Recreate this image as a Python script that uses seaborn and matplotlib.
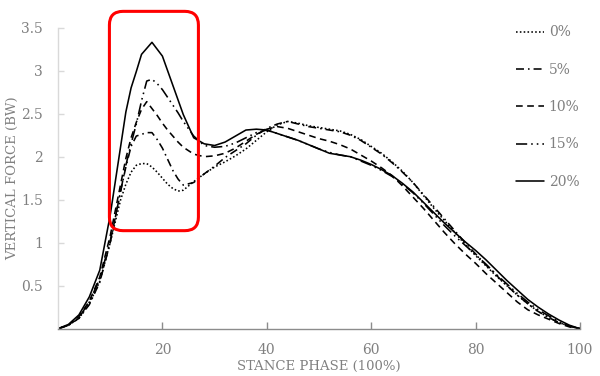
import matplotlib
matplotlib.use("Agg")
import matplotlib.pyplot as plt
from matplotlib.patches import FancyBboxPatch
import seaborn as sns
import pandas as pd

# ---- data -------------------------------------------------------------
stance = [0, 2, 4, 6, 8,
          10, 11, 12, 13, 14, 15, 16, 17, 18, 19, 20, 21, 22, 23, 24,
          26, 28, 30, 32, 34, 36, 38, 40, 42, 44, 46, 48, 50, 52, 54, 56, 58,
          60, 62, 64, 66, 68, 70, 72, 74, 76, 78, 80, 82, 84, 86, 88, 90, 92,
          94, 96, 98, 100]

force_0 = [0, 0.04, 0.12, 0.29, 0.55,
           1.00, 1.25, 1.50, 1.68, 1.82, 1.90, 1.92, 1.92, 1.88, 1.82, 1.75, 1.68, 1.63, 1.60, 1.61,
           1.71, 1.80, 1.88, 1.94, 2.01, 2.09, 2.19, 2.29, 2.37, 2.41, 2.39, 2.36, 2.34, 2.32, 2.30, 2.26, 2.20,
           2.12, 2.04, 1.94, 1.83, 1.70, 1.55, 1.40, 1.26, 1.12, 0.98, 0.85, 0.73, 0.61, 0.50, 0.39, 0.29, 0.20,
           0.13, 0.07, 0.03, 0]

force_5 = [0, 0.04, 0.12, 0.28, 0.54,
           1.00, 1.30, 1.60, 1.88, 2.12, 2.24, 2.26, 2.28, 2.28, 2.20, 2.10, 1.97, 1.84, 1.74, 1.67,
           1.70, 1.80, 1.89, 1.99, 2.07, 2.15, 2.25, 2.33, 2.38, 2.41, 2.38, 2.35, 2.33, 2.31, 2.29, 2.25, 2.19,
           2.11, 2.03, 1.93, 1.82, 1.70, 1.56, 1.42, 1.28, 1.14, 1.00, 0.87, 0.74, 0.62, 0.50, 0.39, 0.29, 0.20,
           0.13, 0.07, 0.03, 0]

force_10 = [0, 0.04, 0.14, 0.32, 0.60,
            1.08, 1.38, 1.68, 1.98, 2.22, 2.40, 2.55, 2.64, 2.56, 2.48, 2.39, 2.31, 2.24, 2.17, 2.11,
            2.03, 2.00, 2.01, 2.04, 2.10, 2.18, 2.26, 2.32, 2.35, 2.33, 2.29, 2.25, 2.21, 2.18, 2.14, 2.09, 2.02,
            1.95, 1.87, 1.78, 1.66, 1.53, 1.40, 1.26, 1.12, 0.99, 0.87, 0.76, 0.64, 0.53, 0.42, 0.31, 0.22, 0.16,
            0.11, 0.06, 0.02, 0]

force_15 = [0, 0.04, 0.13, 0.31, 0.58,
            1.02, 1.30, 1.60, 1.90, 2.15, 2.38, 2.65, 2.88, 2.90, 2.85, 2.78, 2.69, 2.60, 2.51, 2.41,
            2.24, 2.13, 2.11, 2.12, 2.16, 2.22, 2.28, 2.31, 2.27, 2.23, 2.19, 2.14, 2.09, 2.05, 2.02, 2.00, 1.95,
            1.90, 1.84, 1.77, 1.68, 1.58, 1.46, 1.33, 1.20, 1.08, 0.97, 0.86, 0.75, 0.63, 0.52, 0.41, 0.31, 0.22,
            0.15, 0.08, 0.03, 0]

force_20 = [0, 0.05, 0.16, 0.37, 0.68,
            1.32, 1.72, 2.12, 2.52, 2.80, 2.99, 3.19, 3.26, 3.33, 3.25, 3.17, 3.00, 2.83, 2.66, 2.49,
            2.22, 2.15, 2.13, 2.17, 2.24, 2.31, 2.32, 2.31, 2.27, 2.23, 2.19, 2.14, 2.09, 2.04, 2.02, 2.00, 1.96,
            1.91, 1.85, 1.78, 1.69, 1.59, 1.47, 1.35, 1.23, 1.12, 1.01, 0.91, 0.80, 0.68, 0.56, 0.45, 0.34, 0.25,
            0.17, 0.10, 0.04, 0]

series_labels = ["0%", "5%", "10%", "15%", "20%"]
series_values = [force_0, force_5, force_10, force_15, force_20]

x_ticks = [20, 40, 60, 80, 100]
y_ticks = [0.5, 1, 1.5, 2, 2.5, 3, 3.5]
y_tick_labels = ["0.5", "1", "1.5", "2", "2.5", "3", "3.5"]

highlight_x = (9.85, 26.9)
highlight_y = (1.14, 3.69)

# ---- styling ----------------------------------------------------------
sns.set_theme(style="white")
plt.rcParams["font.family"] = ["DejaVu Serif"]

text_gray = "#808080"
line_styles = [(0, (1, 1.4)),
               (0, (5, 2.5, 1, 2.5)),
               (0, (4.2, 2.8)),
               (0, (7, 2.5, 1, 2.5, 1, 2.5)),
               "-"]

fig = plt.figure(figsize=(6.0, 3.76), dpi=100)
ax = fig.add_axes([58 / 600, 1 - 328.7 / 376, 522 / 600, (328.7 - 27.7) / 376])

for lab, vals, ls in zip(series_labels, series_values, line_styles):
    df = pd.DataFrame({"stance": stance, "force": vals})
    sns.lineplot(data=df, x="stance", y="force", ax=ax, color="black",
                 linestyle=ls, linewidth=1.15, label=lab, errorbar=None)

ax.set_xlim(0, 100)
ax.set_ylim(0, 3.5)
ax.set_xticks(x_ticks)
ax.set_xticklabels([str(t) for t in x_ticks])
ax.set_yticks(y_ticks)
ax.set_yticklabels(y_tick_labels)

for side in ["top", "right"]:
    ax.spines[side].set_visible(False)
ax.spines["left"].set_color("#d9d9d9")
ax.spines["left"].set_linewidth(1.0)
ax.spines["bottom"].set_color("#8c8c8c")
ax.spines["bottom"].set_linewidth(1.0)

ax.tick_params(axis="x", direction="in", length=5, width=1, color="#8c8c8c",
               labelsize=10, labelcolor=text_gray, pad=10.5, bottom=True)
ax.tick_params(axis="y", direction="in", length=4, width=1, color="#d9d9d9",
               labelsize=10, labelcolor=text_gray, pad=11, left=True)

ax.set_xlabel("STANCE PHASE (100%)", fontsize=9.5, color=text_gray, labelpad=2)
ax.set_ylabel("VERTICAL FORCE (BW)", fontsize=9.5, color=text_gray, labelpad=1)

handles, labels = ax.get_legend_handles_labels()
ax.get_legend().remove()
leg = fig.legend(handles, labels, loc="upper left",
                 bbox_to_anchor=(516 / 600, 1 - 25.5 / 376),
                 frameon=False, fontsize=10, handlelength=2.0,
                 handletextpad=0.35, labelspacing=1.68,
                 borderpad=0, borderaxespad=0)
for t in leg.get_texts():
    t.set_color(text_gray)

box = FancyBboxPatch((highlight_x[0], highlight_y[0]),
                     highlight_x[1] - highlight_x[0],
                     highlight_y[1] - highlight_y[0],
                     boxstyle="round,pad=0,rounding_size=2.6",
                     mutation_aspect=(522 / 100) / (301 / 3.5),
                     linewidth=2.2, edgecolor="#ff0000", facecolor="none",
                     clip_on=False, zorder=5)
ax.add_patch(box)

fig.savefig("out.png", dpi=100)
